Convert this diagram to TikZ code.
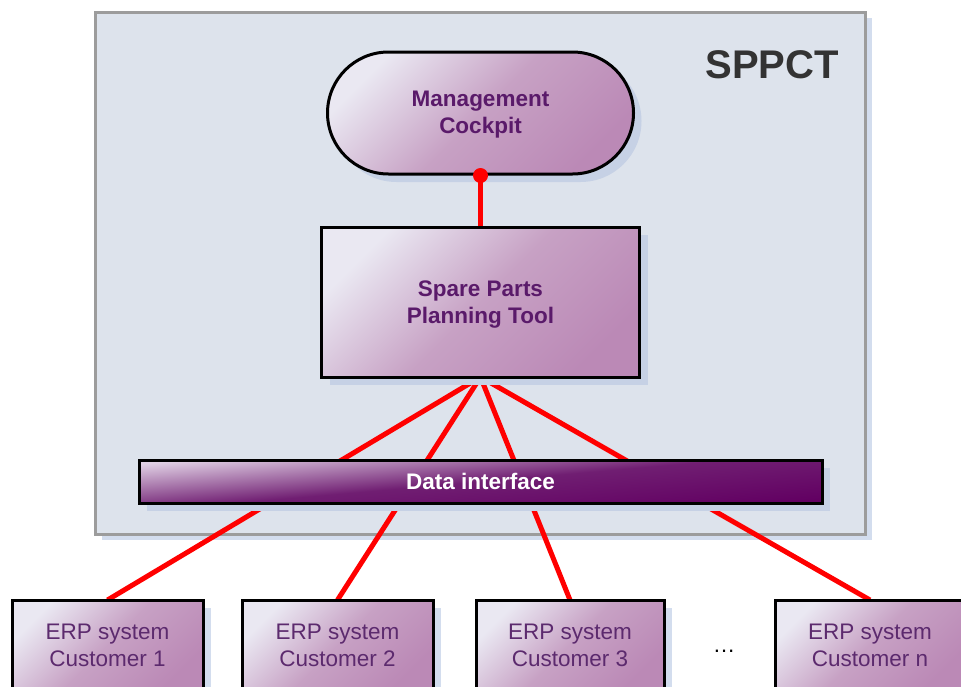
\documentclass[tikz,border=0pt]{standalone}
\usepackage{fontspec}
\setmainfont{Liberation Sans}
\usetikzlibrary{shapes.misc,shadows}
\definecolor{bgframe}{HTML}{DDE3EC}
\definecolor{framegray}{HTML}{9C9C9C}
\definecolor{shadowin}{HTML}{C6D1E5}
\definecolor{shadowout}{HTML}{D3DDEE}
\definecolor{plight}{HTML}{EAE8F2}
\definecolor{pmid}{HTML}{C7A1C4}
\definecolor{pdark}{HTML}{BB89B6}
\definecolor{dlight}{HTML}{E0D0E4}
\definecolor{dmid}{HTML}{701E72}
\definecolor{ddark}{HTML}{620062}
\definecolor{titlecol}{HTML}{5A1A6A}
\definecolor{erpcol}{HTML}{5C2A6E}
\definecolor{sppctcol}{HTML}{333333}
\definecolor{linkred}{HTML}{FF0000}
\tikzset{
  purplebox/.style={draw=black, line width=3pt, inner sep=0pt,
    top color=plight, bottom color=pdark, middle color=pmid, shading angle=45},
  shadowA/.style={general shadow={fill=shadowin, shadow xshift=8pt, shadow yshift=-8pt}},
  shadowB/.style={general shadow={fill=shadowout, shadow xshift=8pt, shadow yshift=-8pt}},
  boldtext/.style={font=\fontsize{22.5}{27}\selectfont\bfseries, text=titlecol, align=center},
  erptext/.style={font=\fontsize{22.5}{27}\selectfont, text=erpcol, align=center},
  redlink/.style={draw=linkred, line width=5pt},
}
\begin{document}
\begin{tikzpicture}[x=1pt,y=-1pt]
\useasboundingbox (0,0) rectangle (961,686);
\fill[white] (0,0) rectangle (961,686);
% outer frame
\node[draw=framegray, line width=3pt, fill=bgframe, inner sep=0pt,
  minimum width=770pt, minimum height=522pt,
  general shadow={fill=shadowout, shadow xshift=6pt, shadow yshift=-6pt}]
  (frame) at (480.5,273) {};
\node[font=\fontsize{40}{48}\selectfont\bfseries, text=sppctcol] (sppctlabel) at (772,65) {SPPCT};
\coordinate (toolbottom) at (480.5,377);
% ERP top anchors
\coordinate (erpAtop) at (107.5,600);
\coordinate (erpBtop) at (337.5,600);
\coordinate (erpCtop) at (570,600);
\coordinate (erpNtop) at (870,600);
% red connectors behind
\draw[redlink] (toolbottom) -- (erpAtop);
\draw[redlink] (toolbottom) -- (erpBtop);
\draw[redlink] (toolbottom) -- (erpCtop);
\draw[redlink] (toolbottom) -- (erpNtop);
% data interface
\node[draw=black, line width=3pt, inner sep=0pt, minimum width=683pt, minimum height=43pt,
  top color=dlight, bottom color=ddark, middle color=dmid, shading angle=5, shadowA,
  font=\fontsize{22.5}{27}\selectfont\bfseries, text=white]
  (data) at (480.5,481.5) {Data interface};
% spare parts planning tool
\node[purplebox, shadowA, minimum width=318pt, minimum height=150pt]
  (tool) at (480.5,302) {};
\node[boldtext] (tooltext) at (480.5,304.5) {Spare Parts\\Planning Tool};
% management cockpit
\node[purplebox, shadowA, rounded rectangle, minimum width=306pt, minimum height=122pt]
  (cockpit) at (480.5,113) {};
\node[boldtext] (cockpittext) at (480.5,115) {Management\\Cockpit};
\draw[redlink] (cockpit.south) -- (tool.north);
\fill[linkred] (cockpit.south) circle (7.5pt);
% ERP systems
\node[purplebox, shadowB, minimum width=191pt, minimum height=90pt, erptext]
  (erpA) at (107.5,645) {ERP system\\Customer 1};
\node[purplebox, shadowB, minimum width=191pt, minimum height=90pt, erptext]
  (erpB) at (337.5,645) {ERP system\\Customer 2};
\node[purplebox, shadowB, minimum width=188pt, minimum height=90pt, erptext]
  (erpC) at (570,645) {ERP system\\Customer 3};
\node[purplebox, shadowB, minimum width=190pt, minimum height=90pt, erptext]
  (erpN) at (870,645) {ERP system\\Customer n};
\node[font=\fontsize{22.5}{27}\selectfont, text=black] (dots) at (724,651) {\ldots};
\end{tikzpicture}
\end{document}
